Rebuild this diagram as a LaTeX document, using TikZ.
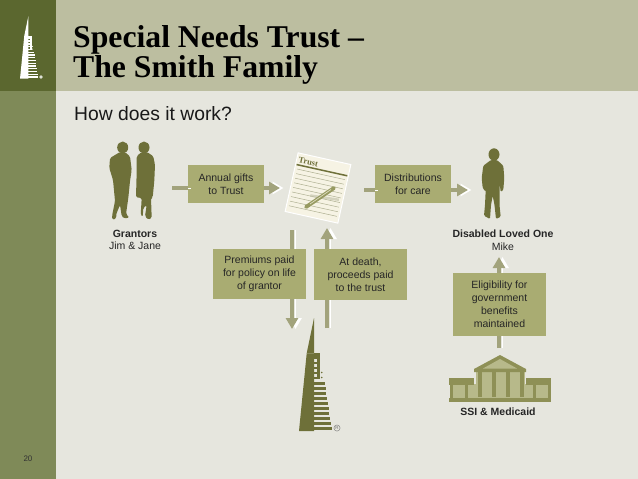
\documentclass[tikz,border=0pt]{standalone}
\usepackage{fontspec}
\setmainfont{Liberation Sans}
\newfontfamily\titlefont{Liberation Serif}
\usetikzlibrary{arrows.meta,calc}
\definecolor{bandDark}{HTML}{5B672F}
\definecolor{bandLight}{HTML}{7F8A58}
\definecolor{headBar}{HTML}{BCBEA0}
\definecolor{pageBg}{HTML}{E6E6DE}
\definecolor{boxFill}{HTML}{A9AC72}
\definecolor{arrowCol}{HTML}{A2A37C}
\definecolor{figCol}{HTML}{6E7039}
\definecolor{templeDark}{HTML}{8E9056}
\definecolor{templeLight}{HTML}{B7B98A}
\definecolor{paper}{HTML}{F6F3E4}
\tikzset{
  infobox/.style = {fill=boxFill, align=center, inner sep=0pt, text=black!85, font=\fontsize{10.5}{13}\selectfont},
  caption/.style = {align=center, inner sep=0pt, text=black!85, font=\fontsize{10.5}{12.5}\selectfont},
  flowline/.style = {draw=arrowCol, line width=4pt, preaction={draw=white, transform canvas={xshift=3.5pt}}},
  flowarrow/.style = {flowline, -{Triangle[length=11pt,width=12pt]}},
  tower/.pic = {
    \fill (16,-113) -- (8.7,-77.7) -- (16,-77.7) -- cycle;
    \fill (8.7,-77.7) -- (1,0) -- (16,0) -- (16,-77.7) -- cycle;
    \fill (16,-77.7) rectangle (22,-74.2);
    \fill (19.4,-77.7) rectangle (22,-51.7);
    \foreach \i in {0,...,4} \fill (16,{-74.2+\i*5}) rectangle (22,{-71.8+\i*5});
    \foreach \i in {0,...,9} \fill (16,{-49+\i*5}) rectangle ({27+\i*0.73},{-46.5+\i*5});
    \fill (23.7,-58.5) circle (0.9) (23.7,-53.5) circle (0.9);
  },
}
\begin{document}
\begin{tikzpicture}[x=1pt,y=-1pt]
\useasboundingbox (0,0) rectangle (638,479);
% page
\fill[pageBg] (0,0) rectangle (638,479);
\fill[bandLight] (0,0) rectangle (56,479);
\fill[headBar] (56,0) rectangle (638,91);
\fill[bandDark] (0,0) rectangle (56,91);
\pic[white,scale=0.55] at (19.5,78.5) {tower};
\fill[white!80!bandDark] (41,77) circle (1.8);

% titles
\node[anchor=base west, inner sep=0pt, align=left, font=\titlefont\bfseries\fontsize{31.7}{30}\selectfont] (title) at (73,77) {Special Needs Trust –\\The Smith Family};
\node[anchor=base west, inner sep=0pt, text=black!90, font=\fontsize{19.3}{22}\selectfont] (subtitle) at (74,120) {How does it work?};

% grantors
\fill[figCol] (122.7,147.5) ellipse (5.5 and 6);
\fill[figCol,rounded corners=1.5pt] (120,152) -- (125,152) -- (130,156.5) -- (131.7,170) -- (130,181) -- (128.3,198) -- (126,214) -- (129.5,217.5) -- (124,218.5) -- (121.7,216) -- (120,205) -- (116,214.7) -- (116.5,218) -- (112.5,220) -- (112,216) -- (115,201) -- (113,180) -- (109.3,168) -- (110,158) -- cycle;
\fill[figCol] (144,147.5) ellipse (5.5 and 6);
\fill[figCol,rounded corners=1.5pt] (141.5,152) -- (147,152) -- (153.3,156.3) -- (155,165) -- (154.3,181) -- (152.7,197.3) -- (151,198) -- (151.7,218) -- (148.3,219.7) -- (145,216.3) -- (146.7,205) -- (143.3,208) -- (142.7,217) -- (140.7,214.7) -- (141.7,198) -- (136,197.3) -- (136.7,171) -- (136.7,156.3) -- cycle;
\node[caption] (grantors) at (135,240) {\textbf{Grantors}\\Jim \& Jane};

% trust document
\node[fill=paper, draw=white, line width=1pt, rotate=-12.5, minimum width=54pt, minimum height=60pt, inner sep=0pt] (trustdoc) at (318,188) {};
\begin{scope}[shift={(318,188)},rotate=-12.5]
  \fill[figCol] (-26,-19) rectangle (26,-17.5);
  \foreach \y in {-14,-9.3,...,28} \draw[figCol!55,line width=0.5pt] (-24.5,\y) -- (24.5,\y);
  \node[text=figCol, inner sep=0pt, anchor=base west, transform shape, font=\titlefont\bfseries\fontsize{8.5}{8.5}\selectfont] (trustword) at (-25,-20.5) {Trust};
  \draw[figCol!45,line width=2.5pt,opacity=.6] (-6,9) -- (23,7);
\end{scope}
\draw[boxFill!70!figCol,line width=3.8pt,line cap=round] (306,207) -- (334,188);
\draw[paper!70!boxFill,line width=0.7pt] (310,204) -- (331,189.5);

% disabled loved one
\fill[figCol] (494,154.5) ellipse (5.5 and 6.2);
\fill[figCol,rounded corners=1.2pt] (491,160) -- (497,160) -- (503.3,165.7) -- (504.3,178) -- (503.3,190) -- (500.7,192) -- (499.7,184) -- (499.5,205) -- (500.7,216.7) -- (496,219) -- (494.5,205) -- (492.7,196) -- (491,205) -- (490,219) -- (484,215.7) -- (485,205) -- (486,184) -- (485.7,191.7) -- (482.7,188) -- (481.7,178) -- (483.3,165.7) -- cycle;
\node[caption] (lovedone) at (503,240) {\textbf{Disabled Loved One}\\Mike};

% boxes
\node[infobox, minimum width=76pt, minimum height=38pt] (gifts) at (226,184) {Annual gifts\\to Trust};
\node[infobox, minimum width=76pt, minimum height=38pt] (distrib) at (413,184) {Distributions\\for care};
\node[infobox, minimum width=93pt, minimum height=50pt] (premiums) at (259.5,274) {Premiums paid\\for policy on life\\of grantor};
\node[infobox, minimum width=93pt, minimum height=51pt] (atdeath) at (360.5,274.5) {At death,\\proceeds paid\\to the trust};
\node[infobox, minimum width=93pt, minimum height=63pt] (elig) at (499.5,304.5) {Eligibility for\\government\\benefits\\maintained};

% free ends of the arrows
\coordinate (grantorsOut) at (172,188);
\coordinate (docIn) at (280,188);
\coordinate (docOut) at (364,190);
\coordinate (lovedIn) at (468,190);
\coordinate (premTop) at (292,230);
\coordinate (premEnd) at (292,329);
\coordinate (deathStart) at (327,328);
\coordinate (deathEnd) at (327,228);
\coordinate (ssiTop) at (499,348);
\coordinate (eligEnd) at (499,257);

% arrows
\draw[flowline] (grantorsOut) -- (grantorsOut -| gifts.west);
\draw[flowarrow] (docIn -| gifts.east) -- (docIn);
\draw[flowline] (docOut) -- (docOut -| distrib.west);
\draw[flowarrow] (lovedIn -| distrib.east) -- (lovedIn);
\draw[flowline] (premTop) -- (premTop |- premiums.north);
\draw[flowarrow] (premEnd |- premiums.south) -- (premEnd);
\draw[flowline] (deathStart) -- (deathStart |- atdeath.south);
\draw[flowarrow] (deathEnd |- atdeath.north) -- (deathEnd);
\draw[flowline] (ssiTop) -- (ssiTop |- elig.south);
\draw[flowarrow] (eligEnd |- elig.north) -- (eligEnd);

% tower
\pic[figCol] at (298,431) {tower};
\node[draw=black!55, circle, line width=0.4pt, inner sep=0.6pt, text=black!55, font=\fontsize{4.5}{5}\selectfont] (regmark) at (337,428) {R};

% temple
\fill[templeLight] (450,384) rectangle (550,398);
\fill[templeLight] (476,370) rectangle (525,398);
\fill[templeDark] (449,378) rectangle (474,384.5);
\fill[templeDark] (526,378) rectangle (551,384.5);
\fill[templeDark] (500,355) -- (526,369) -- (526,372) -- (474,372) -- (474,369) -- cycle;
\fill[templeLight] (500,359) -- (517,368.5) -- (483,368.5) -- cycle;
\foreach \x in {480,493.5,507.5,521.5} \fill[templeDark] (\x-2,372) rectangle (\x+2,397);
\foreach \x in {451,466,534,549} \fill[templeDark] (\x-1.5,384) rectangle (\x+1.5,398);
\fill[templeDark] (449,398) rectangle (551,402);
\node[caption] (ssi) at (498,412) {\textbf{SSI \& Medicaid}};

% page number
\node[inner sep=0pt, text=black!80, font=\fontsize{8}{8}\selectfont] (pagenum) at (28,459) {20};
\end{tikzpicture}
\end{document}
